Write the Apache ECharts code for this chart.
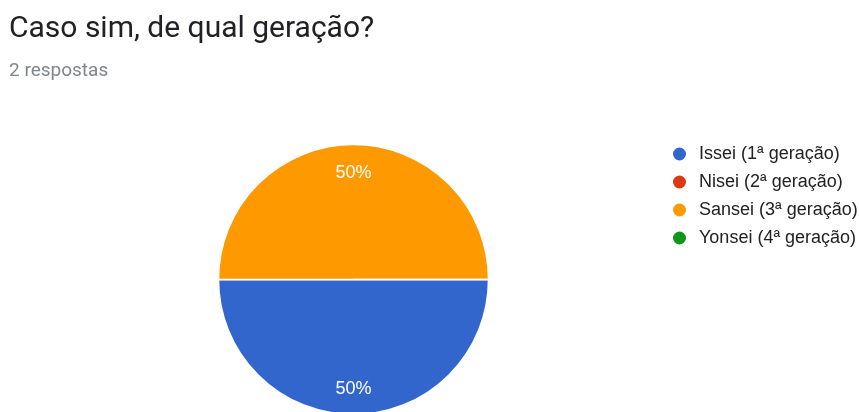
<!DOCTYPE html>
<html>
<head>
<meta charset="utf-8">
<script src="https://cdn.jsdelivr.net/npm/echarts@6/dist/echarts.min.js"></script>
<style>
html,body{margin:0;padding:0;background:#fff;}
#c{width:859px;height:412px;}
</style>
</head>
<body>
<div id="c"></div>
<script>
const titleText = 'Caso sim, de qual geração?';
const subtitleText = '2 respostas';
const categories = ['Issei (1ª geração)', 'Nisei (2ª geração)', 'Sansei (3ª geração)', 'Yonsei (4ª geração)'];
const values = [1, 0, 1, 0];

const palette = ['#3366cc', '#dc3912', '#ff9900', '#109618'];
const data = categories.map((n, i) => ({ name: n, value: values[i] }));
const total = values.reduce((a, b) => a + b, 0);

const chart = echarts.init(document.getElementById('c'), null, { renderer: 'canvas' });
chart.setOption({
  animation: false,
  color: palette,
  title: [
    {
      text: titleText,
      left: 4,
      top: 9,
      textStyle: { fontFamily: 'Roboto', fontSize: 30, fontWeight: 'normal', color: '#202124' }
    },
    {
      text: subtitleText,
      left: 4,
      top: 57,
      textStyle: { fontFamily: 'Roboto', fontSize: 19, fontWeight: 'normal', color: '#80868b' }
    }
  ],
  legend: {
    orient: 'vertical',
    left: 666,
    top: 140,
    icon: 'circle',
    itemWidth: 15,
    itemHeight: 15,
    itemGap: 10,
    data: categories,
    textStyle: { fontFamily: 'Liberation Sans', fontSize: 18, color: '#222222', padding: [0, 0, 0, 7] },
    selectedMode: false
  },
  series: [
    {
      type: 'pie',
      center: [353.5, 279.5],
      radius: [0, 135],
      startAngle: 0,
      clockwise: true,
      avoidLabelOverlap: false,
      stillShowZeroSum: true,
      silent: true,
      label: { show: false },
      labelLine: { show: false },
      itemStyle: { borderColor: '#ffffff', borderWidth: 1.5 },
      data: data
    },
    {
      type: 'pie',
      center: [353.5, 281],
      radius: [75, 135],
      startAngle: 0,
      clockwise: true,
      silent: true,
      avoidLabelOverlap: false,
      legendHoverLink: false,
      itemStyle: { color: 'rgba(0,0,0,0)', borderWidth: 0 },
      label: {
        show: true,
        position: 'inside',
        fontFamily: 'Liberation Sans',
        fontSize: 18,
        color: '#ffffff',
        formatter: p => p.value > 0 ? Math.round(p.value / total * 100) + '%' : ''
      },
      labelLine: { show: false },
      data: data
    }
  ]
});
</script>
</body>
</html>
